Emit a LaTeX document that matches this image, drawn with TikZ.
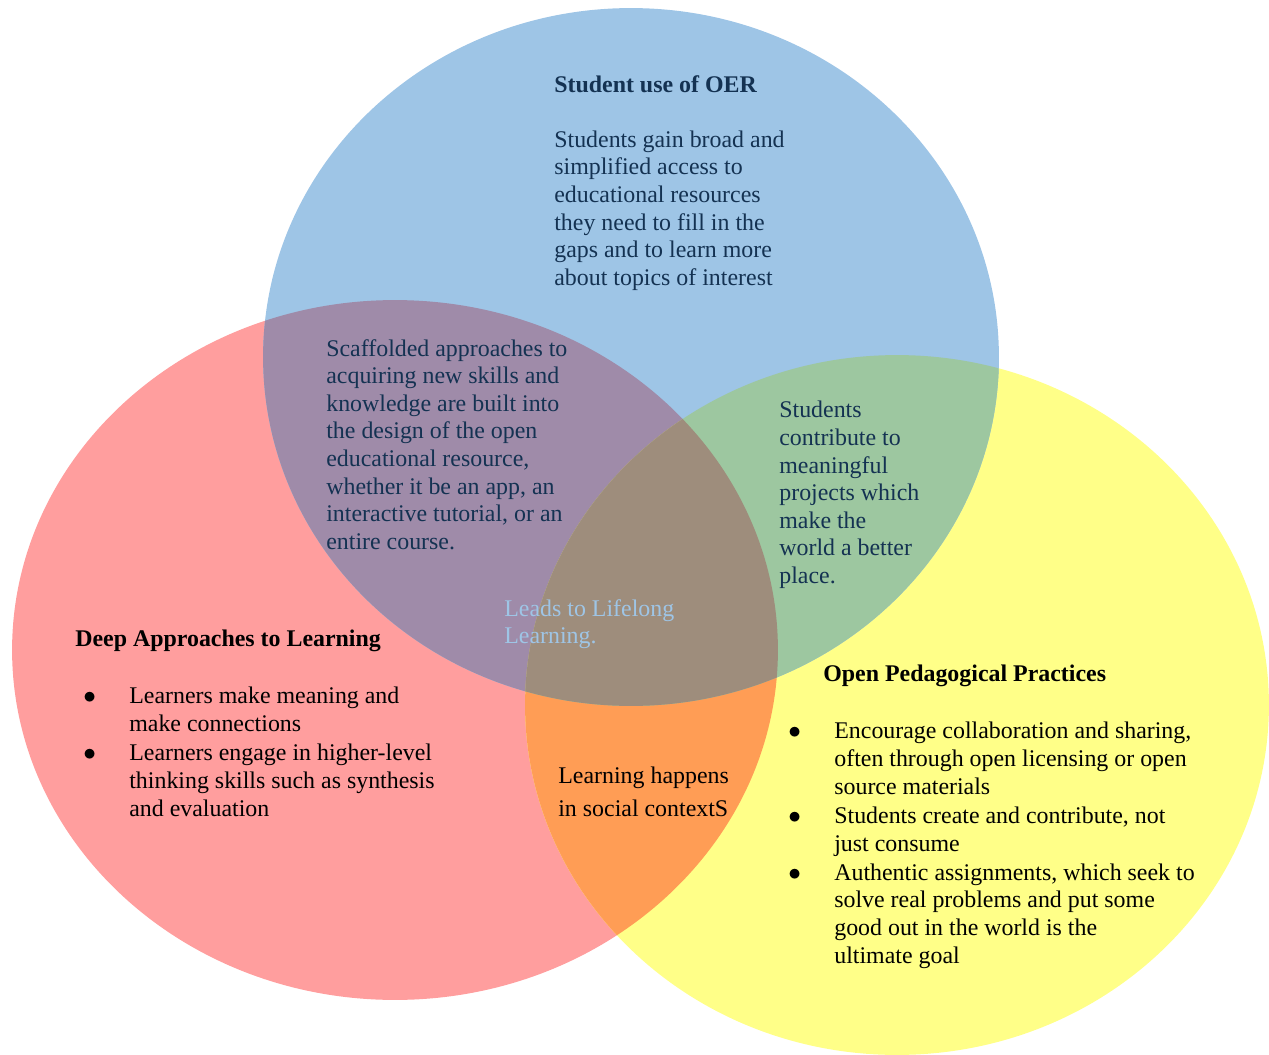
\documentclass[tikz,border=0pt]{standalone}
\usepackage{fontspec}
\setmainfont{Liberation Serif}
\usepackage{tikz}
\usepackage{color}
\definecolor{oerblue}{RGB}{158,197,230}
\definecolor{deepred}{RGB}{255,158,158}
\definecolor{oppyellow}{RGB}{255,255,136}
\definecolor{redblue}{RGB}{159,139,169}
\definecolor{blueyellow}{RGB}{157,199,160}
\definecolor{redyellow}{RGB}{255,157,85}
\definecolor{allthree}{RGB}{158,141,124}
\definecolor{navytext}{RGB}{20,50,82}
\newcommand{\vennbullet}{\makebox[0.92cm][l]{$\bullet$}}
\newcommand{\venngap}{\hspace*{0.92cm}}

\begin{document}
\begin{tikzpicture}
[x=0.02cm, y=-0.02cm,
 venntext/.style={font=\fontsize{13.6}{15.7}\selectfont, align=left,
                  inner sep=0pt, anchor=north west}]

\useasboundingbox (0,0) rectangle (1269,1055);
\clip (0,0) rectangle (1269,1055);

% The three circles:
\def\oerpath{(631,357) ellipse [x radius=7.36cm, y radius=6.98cm]}
\def\deeppath{(395,650) ellipse [x radius=7.66cm, y radius=7cm]}
\def\opppath{(897,705) ellipse [x radius=7.44cm, y radius=7cm]}

\fill[deepred] \deeppath;
\fill[oppyellow] \opppath;
\fill[oerblue] \oerpath;

% Overlaps:
\begin{scope}
  \clip \deeppath;
  \fill[redblue] \oerpath;
  \fill[redyellow] \opppath;
\end{scope}
\begin{scope}
  \clip \oerpath;
  \fill[blueyellow] \opppath;
\end{scope}
\begin{scope}
  \clip \deeppath;
  \clip \oerpath;
  \fill[allthree] \opppath;
\end{scope}

% Texts:
\node[venntext, text=navytext] (oer) at (554,75)
  {\textbf{Student use of OER}\\[15.7pt]
   Students gain broad and\\ simplified access to\\ educational resources\\
   they need to fill in the\\ gaps and to learn more\\ about topics of interest};

\node[venntext, text=navytext] (scaffold) at (326,339)
  {Scaffolded approaches to\\ acquiring new skills and\\ knowledge are built into\\
   the design of the open\\ educational resource,\\ whether it be an app, an\\
   interactive tutorial, or an\\ entire course.};

\node[venntext, text=navytext] (contribute) at (779,401)
  {Students\\ contribute to\\ meaningful\\ projects which\\ make the\\
   world a better\\ place.};

\node[venntext, text=oerblue] (lifelong) at (504,599)
  {Leads to Lifelong\\ Learning.};

\node[venntext] (deephead) at (75,630) {\textbf{Deep Approaches to Learning}};
\node[venntext] (deeplist) at (83,687)
  {\vennbullet Learners make meaning and\\ \venngap make connections\\[1pt]
   \vennbullet Learners engage in higher-level\\
   \venngap thinking skills such as synthesis\\ \venngap and evaluation};

\node[venntext] (social) at (558,767)
  {Learning happens\\[3pt] in social contextS};

\node[venntext] (opphead) at (823,665) {\textbf{Open Pedagogical Practices}};
\node[venntext] (opplist) at (788,722)
  {\vennbullet Encourage collaboration and sharing,\\
   \venngap often through open licensing or open\\ \venngap source materials\\[1pt]
   \vennbullet Students create and contribute, not\\ \venngap just consume\\[1pt]
   \vennbullet Authentic assignments, which seek to\\
   \venngap solve real problems and put some\\ \venngap good out in the world is the\\
   \venngap ultimate goal};

\end{tikzpicture}
\end{document}
